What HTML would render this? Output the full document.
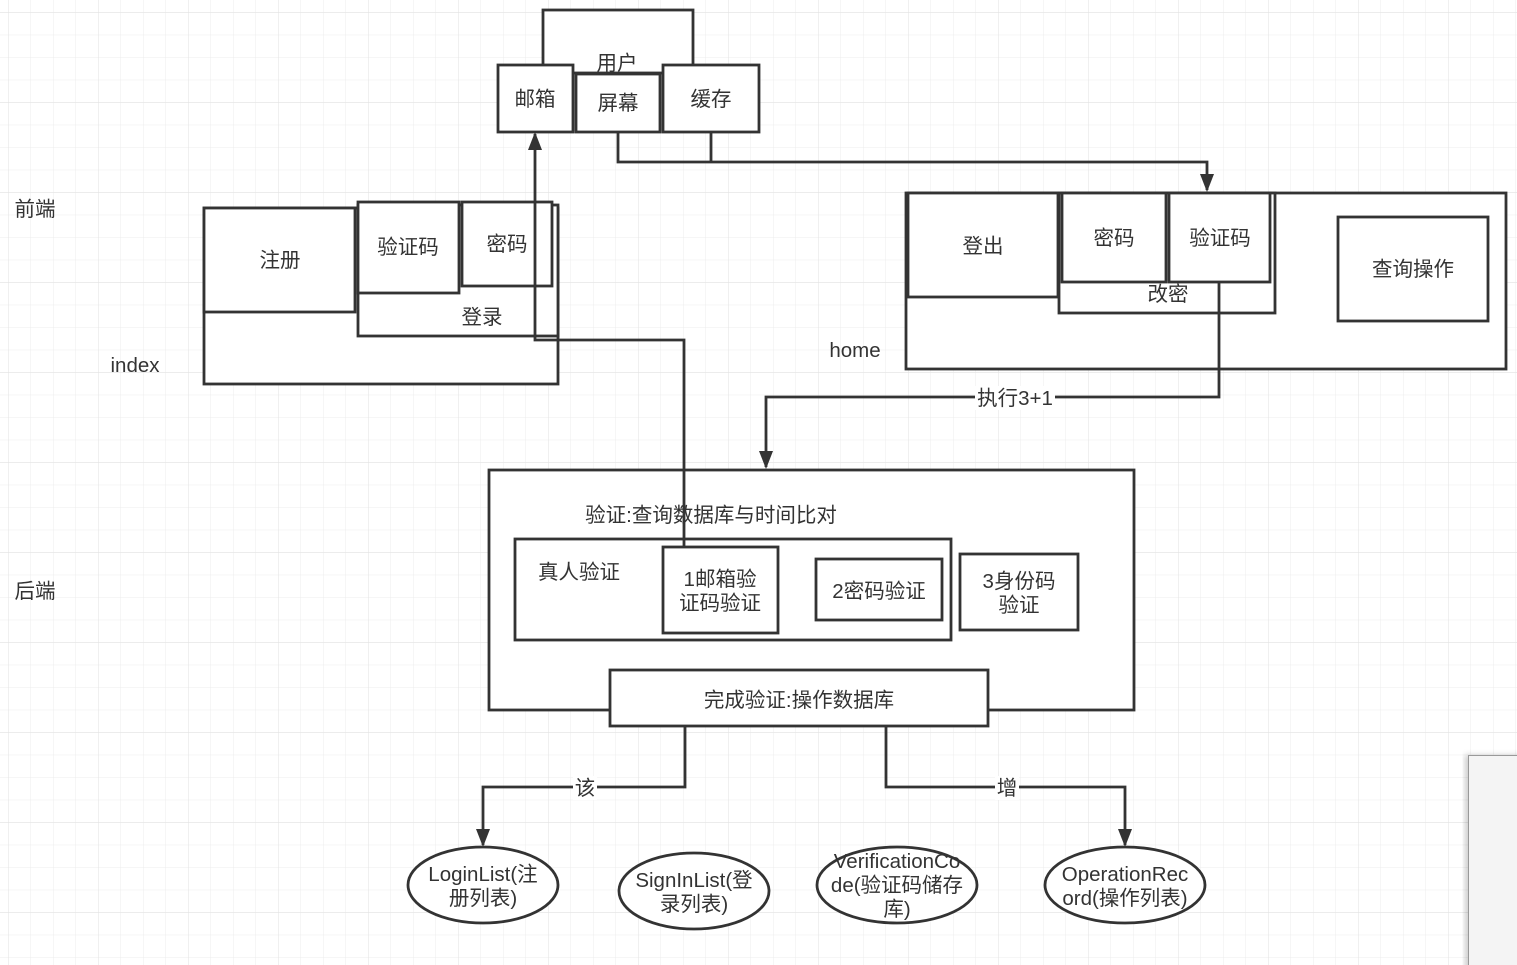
<!DOCTYPE html>
<html><head><meta charset="utf-8"><style>
html,body{margin:0;padding:0;background:#fff}
svg{display:block}
text{font-family:"Liberation Sans","Noto Sans CJK SC",sans-serif;fill:#333;font-size:20.5px}
</style></head><body>
<svg width="1517" height="965" viewBox="0 0 1517 965" xmlns="http://www.w3.org/2000/svg">
<defs>
<pattern id="g" x="8.5" y="12.7" width="22.5" height="22.5" patternUnits="userSpaceOnUse">
<path d="M22.5 0V22.5M0 22.5H22.5" stroke="#ececec" stroke-width="1" fill="none"/>
</pattern>
<pattern id="G" x="8.5" y="12.7" width="90" height="90" patternUnits="userSpaceOnUse">
<path d="M90 0V90M0 90H90" stroke="#e2e2e2" stroke-width="1" fill="none"/>
</pattern>
<marker id="a" markerWidth="18" markerHeight="14" refX="16" refY="7" orient="auto" markerUnits="userSpaceOnUse">
<path d="M0,0 L18,7 L0,14 z" fill="#333"/>
</marker>
<filter id="sh"><feDropShadow dx="-3" dy="0" stdDeviation="3" flood-opacity="0.2"/></filter>
</defs>
<rect width="1517" height="965" fill="url(#g)"/>
<rect width="1517" height="965" fill="url(#G)"/>
<g stroke="#333" stroke-width="2.8" fill="#fff">
<rect x="543" y="10" width="150" height="63"/>
<rect x="498" y="65" width="75" height="67"/>
<rect x="576" y="74" width="84" height="58"/>
<rect x="663" y="65" width="96" height="67"/>
<rect x="204" y="208" width="354" height="176"/>
<rect x="358" y="205" width="200" height="131"/>
<rect x="204" y="208" width="151" height="104"/>
<rect x="358" y="202" width="101" height="91"/>
<rect x="462" y="202" width="90" height="84"/>
<rect x="906" y="193" width="600" height="176"/>
<rect x="908" y="193" width="150" height="104"/>
<rect x="1059" y="193" width="216" height="120"/>
<rect x="1062" y="193" width="104" height="89"/>
<rect x="1169" y="193" width="101" height="89"/>
<rect x="1338" y="217" width="150" height="104"/>
<rect x="489" y="470" width="645" height="240"/>
<rect x="515" y="539" width="436" height="101"/>
<rect x="663" y="547" width="115" height="86"/>
<rect x="816" y="559" width="126" height="61"/>
<rect x="960" y="554" width="118" height="76"/>
<rect x="610" y="670" width="378" height="56"/>
<ellipse cx="483" cy="885" rx="75" ry="38"/>
<ellipse cx="694" cy="891" rx="75" ry="38"/>
<ellipse cx="897" cy="885" rx="80" ry="38"/>
<ellipse cx="1125" cy="885" rx="80" ry="38"/>
</g>
<g stroke="#333" stroke-width="2.8" fill="none">
<path d="M618 132V162H1207V190" marker-end="url(#a)"/>
<path d="M711 132V162"/>
<path d="M684 547V340H535V134" marker-end="url(#a)"/>
<path d="M1219 282V397H766V467" marker-end="url(#a)"/>
<path d="M685 726V787H483V845" marker-end="url(#a)"/>
<path d="M886 726V787H1125V845" marker-end="url(#a)"/>
</g>
<g text-anchor="middle">
<rect x="975" y="386" width="80" height="24" fill="#fff"/>
<rect x="573" y="776" width="24" height="24" fill="#fff"/>
<rect x="995" y="776" width="24" height="24" fill="#fff"/>
<text x="617" y="70">用户</text>
<text x="535" y="106">邮箱</text>
<text x="618" y="110">屏幕</text>
<text x="711" y="106">缓存</text>
<text x="280" y="267">注册</text>
<text x="408" y="254">验证码</text>
<text x="507" y="251">密码</text>
<text x="482" y="324">登录</text>
<text x="135" y="372">index</text>
<text x="35" y="216">前端</text>
<text x="35" y="598">后端</text>
<text x="983" y="253">登出</text>
<text x="1114" y="245">密码</text>
<text x="1220" y="245">验证码</text>
<text x="1168" y="301">改密</text>
<text x="1413" y="276">查询操作</text>
<text x="855" y="357">home</text>
<text x="1015" y="405">执行3+1</text>
<text x="711" y="522">验证:查询数据库与时间比对</text>
<text x="579" y="579">真人验证</text>
<text x="720" y="586">1邮箱验</text>
<text x="720" y="610">证码验证</text>
<text x="879" y="598">2密码验证</text>
<text x="1019" y="588">3身份码</text>
<text x="1019" y="612">验证</text>
<text x="799" y="707">完成验证:操作数据库</text>
<text x="585" y="795">该</text>
<text x="1007" y="795">增</text>
<text x="483" y="881">LoginList(注</text>
<text x="483" y="905">册列表)</text>
<text x="694" y="887">SignInList(登</text>
<text x="694" y="911">录列表)</text>
<text x="897" y="868">VerificationCo</text>
<text x="897" y="892">de(验证码储存</text>
<text x="897" y="916">库)</text>
<text x="1125" y="881">OperationRec</text>
<text x="1125" y="905">ord(操作列表)</text>
</g>
<rect x="1468.5" y="755.5" width="60" height="220" fill="#f4f4f4" stroke="#999" filter="url(#sh)"/>
</svg>
</body></html>
